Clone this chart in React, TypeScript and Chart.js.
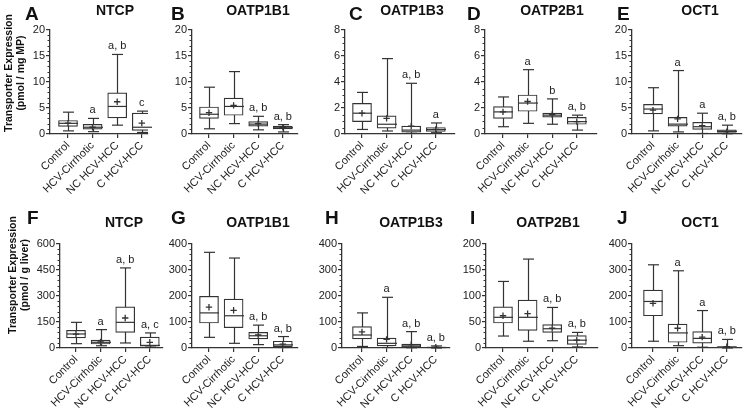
import React, { useEffect, useRef } from 'react';
import { Chart, registerables } from 'chart.js';
Chart.register(...registerables);

const CATS = ['Control', 'HCV-Cirrhotic', 'NC HCV-HCC', 'C HCV-HCC'];

// A NTCP (pmol / mg MP)
const A_min = [0.6, 0.45, 1.7, 0.3];
const A_q1 = [1.45, 0.95, 3.1, 0.7];
const A_med = [2.05, 1.3, 5.3, 1.3];
const A_q3 = [2.6, 1.85, 7.9, 4.0];
const A_max = [4.2, 3.0, 15.3, 4.4];
const A_mean = [2.1, 1.3, 6.2, 2.1];
const A_sig = ['', 'a', 'a, b', 'c'];
// B OATP1B1
const B_min = [1.0, 2.0, 0.8, 0.4];
const B_q1 = [3.0, 3.6, 1.5, 1.0];
const B_med = [3.8, 5.3, 1.9, 1.2];
const B_q3 = [5.2, 6.9, 2.4, 1.5];
const B_max = [9.0, 12.0, 3.4, 1.8];
const B_mean = [4.1, 5.5, 2.0, 1.3];
const B_sig = ['', '', 'a, b', 'a, b'];
// C OATP1B3
const C_min = [0.35, 0.23, 0.05, 0.1];
const C_q1 = [0.95, 0.45, 0.15, 0.2];
const C_med = [1.6, 0.75, 0.3, 0.35];
const C_q3 = [2.35, 1.4, 0.6, 0.5];
const C_max = [3.2, 5.8, 3.9, 0.85];
const C_mean = [1.6, 1.2, 0.6, 0.35];
const C_sig = ['', '', 'a, b', 'a'];
// D OATP2B1
const D_min = [0.56, 0.82, 0.75, 0.3];
const D_q1 = [1.2, 1.75, 1.3, 0.75];
const D_med = [1.7, 2.38, 1.45, 0.95];
const D_q3 = [2.1, 3.0, 1.6, 1.28];
const D_max = [2.85, 4.95, 2.7, 1.45];
const D_mean = [1.7, 2.5, 1.5, 0.95];
const D_sig = ['', 'a', 'b', 'a, b'];
// E OCT1
const E_min = [0.6, 0.4, 0.1, 0.05];
const E_q1 = [3.85, 1.5, 0.9, 0.3];
const E_med = [4.8, 1.9, 1.4, 0.5];
const E_q3 = [5.7, 3.2, 2.25, 0.8];
const E_max = [8.9, 12.2, 4.0, 1.7];
const E_mean = [4.6, 2.9, 1.6, 0.45];
const E_sig = ['', 'a', 'a', 'a, b'];
// F NTCP (pmol / g liver)
const F_min = [25, 13, 29, 5];
const F_q1 = [58, 23, 90, 10];
const F_med = [81, 33, 148, 15];
const F_q3 = [102, 46, 237, 63];
const F_max = [148, 106, 462, 87];
const F_mean = [80, 35, 173, 33];
const F_sig = ['', 'a', 'a, b', 'a, c'];
// G OATP1B1
const G_min = [41, 18, 13, 2];
const G_q1 = [96, 78, 35, 5];
const G_med = [135, 124, 47, 12];
const G_q3 = [199, 188, 60, 26];
const G_max = [368, 346, 88, 44];
const G_mean = [157, 145, 50, 15];
const G_sig = ['', '', 'a, b', 'a, b'];
// H OATP1B3
const H_min = [6, 2, 1, 0];
const H_q1 = [35, 8, 3, 1];
const H_med = [50, 18, 8, 2];
const H_q3 = [82, 38, 15, 4];
const H_max = [135, 195, 63, 8];
const H_mean = [62, 33, 13, 3];
const H_sig = ['', 'a', 'a, b', 'a, b'];
// I OATP2B1
const I_min = [23, 13, 14, 2];
const I_q1 = [48, 34, 30, 7];
const I_med = [59, 59, 37, 15];
const I_q3 = [79, 92, 45, 24];
const I_max = [128, 171, 78, 30];
const I_mean = [62, 66, 38, 15];
const I_sig = ['', '', 'a, b', 'a, b'];
// J OCT1
const J_min = [26, 9, 3, 0];
const J_q1 = [124, 22, 19, 1];
const J_med = [179, 58, 37, 3];
const J_q3 = [223, 92, 63, 5];
const J_max = [320, 297, 144, 33];
const J_mean = [172, 76, 42, 5];
const J_sig = ['', 'a', 'a', 'a, b'];

const Y_TITLE_TOP = ['Transporter Expression', '(pmol / mg MP)'];
const Y_TITLE_BOTTOM = ['Transporter Expression', '(pmol / g liver)'];

type Panel = {
  letter: string; title: string;
  min: number[]; q1: number[]; med: number[]; q3: number[]; max: number[]; mean: number[]; sig: string[];
  yMax: number; major: number; minor: number;
};

const PANELS: Panel[] = [
  { letter: 'A', title: 'NTCP', min: A_min, q1: A_q1, med: A_med, q3: A_q3, max: A_max, mean: A_mean, sig: A_sig, yMax: 20, major: 5, minor: 1 },
  { letter: 'B', title: 'OATP1B1', min: B_min, q1: B_q1, med: B_med, q3: B_q3, max: B_max, mean: B_mean, sig: B_sig, yMax: 20, major: 5, minor: 1 },
  { letter: 'C', title: 'OATP1B3', min: C_min, q1: C_q1, med: C_med, q3: C_q3, max: C_max, mean: C_mean, sig: C_sig, yMax: 8, major: 2, minor: 0.5 },
  { letter: 'D', title: 'OATP2B1', min: D_min, q1: D_q1, med: D_med, q3: D_q3, max: D_max, mean: D_mean, sig: D_sig, yMax: 8, major: 2, minor: 0.5 },
  { letter: 'E', title: 'OCT1', min: E_min, q1: E_q1, med: E_med, q3: E_q3, max: E_max, mean: E_mean, sig: E_sig, yMax: 20, major: 5, minor: 1 },
  { letter: 'F', title: 'NTCP', min: F_min, q1: F_q1, med: F_med, q3: F_q3, max: F_max, mean: F_mean, sig: F_sig, yMax: 600, major: 150, minor: 30 },
  { letter: 'G', title: 'OATP1B1', min: G_min, q1: G_q1, med: G_med, q3: G_q3, max: G_max, mean: G_mean, sig: G_sig, yMax: 400, major: 100, minor: 20 },
  { letter: 'H', title: 'OATP1B3', min: H_min, q1: H_q1, med: H_med, q3: H_q3, max: H_max, mean: H_mean, sig: H_sig, yMax: 400, major: 100, minor: 20 },
  { letter: 'I', title: 'OATP2B1', min: I_min, q1: I_q1, med: I_med, q3: I_q3, max: I_max, mean: I_mean, sig: I_sig, yMax: 200, major: 50, minor: 10 },
  { letter: 'J', title: 'OCT1', min: J_min, q1: J_q1, med: J_med, q3: J_q3, max: J_max, mean: J_mean, sig: J_sig, yMax: 400, major: 100, minor: 20 },
];

// layout (pixels on page)
type Layout = { row: number; axisX: number; cat0: number; endX: number; titleX: number; letterX: number };
const LAYOUT: Layout[] = [
  { row: 0, axisX: 50, cat0: 68, endX: 148, titleX: 115, letterX: 25 },
  { row: 0, axisX: 192, cat0: 209, endX: 298, titleX: 258, letterX: 171 },
  { row: 0, axisX: 345, cat0: 362, endX: 455, titleX: 412, letterX: 349 },
  { row: 0, axisX: 485, cat0: 503, endX: 597, titleX: 552, letterX: 467 },
  { row: 0, axisX: 632, cat0: 653, endX: 742, titleX: 700, letterX: 617 },
  { row: 1, axisX: 60, cat0: 76, endX: 163, titleX: 124, letterX: 27 },
  { row: 1, axisX: 192, cat0: 209, endX: 298, titleX: 258, letterX: 171 },
  { row: 1, axisX: 342, cat0: 362, endX: 450, titleX: 411, letterX: 325 },
  { row: 1, axisX: 486, cat0: 503, endX: 598, titleX: 548, letterX: 470 },
  { row: 1, axisX: 632, cat0: 653, endX: 742, titleX: 700, letterX: 617 },
];

const ROWS = [
  { canvasTop: 0, plotTop: 30, plotH: 104, letterY: 20, titleY: 15, yTitleX: [9, 21], yTitleY: 73, yTitle: Y_TITLE_TOP },
  { canvasTop: 204, plotTop: 244, plotH: 104, letterY: 224, titleY: 227, yTitleX: [13.5, 25], yTitleY: 275, yTitle: Y_TITLE_BOTTOM },
];

const CAT_STEP = 24.6;
const XH = 65;
const FONT = 'Arial, "Liberation Sans", Helvetica, sans-serif';
const INK = '#333333';
const TXT = '#222222';

function PanelChart({ idx }: { idx: number }) {
  const ref = useRef<HTMLCanvasElement>(null);
  const p = PANELS[idx];
  const l = LAYOUT[idx];
  const row = ROWS[l.row];
  const first = idx % 5 === 0;
  const canvasLeft = first ? 0 : l.axisX - 48;
  const YW = l.axisX - canvasLeft;
  const PR = 8;
  const W = l.endX + PR - canvasLeft;
  const PT = row.plotTop - row.canvasTop;
  const H = PT + row.plotH + XH;

  useEffect(() => {
    const xMin = -(l.cat0 - l.axisX) / CAT_STEP;
    const xMax = 3 + (l.endX - (l.cat0 + 3 * CAT_STEP)) / CAT_STEP;
    const boxHalf = 9.5;
    const capHalf = 5.5;

    const plugin = {
      id: 'boxwhisker' + idx,
      beforeDatasetsDraw(chart: any) {
        const { ctx, scales } = chart;
        const x = scales.x, y = scales.y;
        ctx.save();
        ctx.strokeStyle = INK;
        ctx.lineWidth = 1.2;
        p.min.forEach((mn, i) => {
          const px = Math.round(x.getPixelForValue(i)) + 0.5;
          ctx.beginPath();
          ctx.moveTo(px, y.getPixelForValue(mn));
          ctx.lineTo(px, y.getPixelForValue(p.max[i]));
          ctx.stroke();
        });
        ctx.restore();
      },
      afterDatasetsDraw(chart: any) {
        const { ctx, scales } = chart;
        const x = scales.x, y = scales.y;
        ctx.save();
        ctx.strokeStyle = INK;
        ctx.lineWidth = 1.2;
        p.med.forEach((md, i) => {
          const px = Math.round(x.getPixelForValue(i)) + 0.5;
          const ym = y.getPixelForValue(md);
          ctx.beginPath();
          ctx.moveTo(px - boxHalf, ym);
          ctx.lineTo(px + boxHalf, ym);
          ctx.stroke();
          [p.min[i], p.max[i]].forEach((v) => {
            const yy = y.getPixelForValue(v);
            ctx.beginPath();
            ctx.moveTo(px - capHalf, yy);
            ctx.lineTo(px + capHalf, yy);
            ctx.stroke();
          });
        });
        ctx.restore();
      },
      afterDraw(chart: any) {
        const { ctx, scales, chartArea } = chart;
        const x = scales.x, y = scales.y;
        ctx.save();
        // minor ticks
        ctx.strokeStyle = INK;
        ctx.lineWidth = 1;
        const ax = chartArea.left;
        const n = Math.round(p.yMax / p.minor);
        for (let k = 0; k <= n; k++) {
          const v = k * p.minor;
          if (Math.abs(v / p.major - Math.round(v / p.major)) < 1e-6) continue;
          const yy = Math.round(y.getPixelForValue(v)) + 0.5;
          ctx.beginPath();
          ctx.moveTo(ax - 2.5, yy);
          ctx.lineTo(ax, yy);
          ctx.stroke();
        }
        // significance letters
        ctx.fillStyle = TXT;
        ctx.font = '11px ' + FONT;
        ctx.textAlign = 'center';
        ctx.textBaseline = 'alphabetic';
        p.sig.forEach((s, i) => {
          if (!s) return;
          ctx.fillText(s, x.getPixelForValue(i), y.getPixelForValue(p.max[i]) - 5);
        });
        // panel letter
        ctx.font = 'bold 19px ' + FONT;
        ctx.textAlign = 'left';
        ctx.fillStyle = '#111';
        ctx.fillText(p.letter, l.letterX - canvasLeft, row.letterY - row.canvasTop);
        // title
        ctx.font = 'bold 14px ' + FONT;
        ctx.textAlign = 'center';
        ctx.fillText(p.title, l.titleX - canvasLeft, row.titleY - row.canvasTop);
        // y axis title
        if (first) {
          ctx.font = 'bold 10.5px ' + FONT;
          ctx.textBaseline = 'middle';
          row.yTitle.forEach((t, k) => {
            ctx.save();
            ctx.translate(row.yTitleX[k] - canvasLeft, row.yTitleY - row.canvasTop);
            ctx.rotate(-Math.PI / 2);
            ctx.fillText(t, 0, 0);
            ctx.restore();
          });
        }
        ctx.restore();
      },
    };

    const chart = new Chart(ref.current as HTMLCanvasElement, {
      type: 'scatter',
      data: {
        datasets: [
          {
            type: 'scatter',
            data: p.mean.map((v, i) => ({ x: i, y: v })),
            pointStyle: 'cross',
            pointRadius: 3.2,
            pointBorderWidth: 1.3,
            borderColor: INK,
            backgroundColor: INK,
            order: 0,
          } as any,
          {
            type: 'bar',
            data: p.q1.map((v, i) => ({ x: i, y: [v, p.q3[i]] })),
            backgroundColor: '#ffffff',
            borderColor: INK,
            borderWidth: 1.2,
            borderSkipped: false,
            barThickness: 19,
            order: 1,
          } as any,
        ],
      },
      options: {
        responsive: false,
        animation: false,
        devicePixelRatio: 1,
        events: [],
        layout: { padding: { top: PT, left: 0, right: PR, bottom: 0 } },
        plugins: { legend: { display: false }, tooltip: { enabled: false }, title: { display: false } },
        scales: {
          x: {
            type: 'linear',
            min: xMin,
            max: xMax,
            offset: false,
            afterBuildTicks: (s: any) => { s.ticks = [0, 1, 2, 3].map((v) => ({ value: v })); },
            afterFit: (s: any) => { s.height = XH; s.paddingLeft = 0; s.paddingRight = 0; },
            ticks: {
              callback: (v: any) => CATS[Math.round(v)] ?? '',
              autoSkip: false,
              maxRotation: 45,
              minRotation: 45,
              font: { family: FONT, size: 11 },
              color: TXT,
              padding: 1,
            },
            grid: { display: true, offset: false, drawOnChartArea: false, drawTicks: true, tickLength: 4, color: INK, lineWidth: 1.2 },
            border: { display: true, color: INK, width: 1.3 },
          },
          y: {
            type: 'linear',
            min: 0,
            max: p.yMax,
            afterFit: (s: any) => { s.width = YW; },
            ticks: { stepSize: p.major, font: { family: FONT, size: 11 }, color: TXT, padding: 1 },
            grid: { display: true, drawOnChartArea: false, drawTicks: true, tickLength: 4, color: INK, lineWidth: 1.2 },
            border: { display: true, color: INK, width: 1.3 },
          },
        },
      } as any,
      plugins: [plugin],
    });
    return () => chart.destroy();
  }, []);

  return (
    <canvas
      ref={ref}
      width={W}
      height={H}
      style={{ position: 'absolute', left: canvasLeft, top: row.canvasTop, width: W, height: H }}
    />
  );
}

export default function App() {
  return (
    <div style={{ position: 'fixed', left: 0, top: 0, width: 744, height: 413, background: '#ffffff', overflow: 'hidden' }}>
      {PANELS.map((_, i) => (
        <PanelChart key={i} idx={i} />
      ))}
    </div>
  );
}
